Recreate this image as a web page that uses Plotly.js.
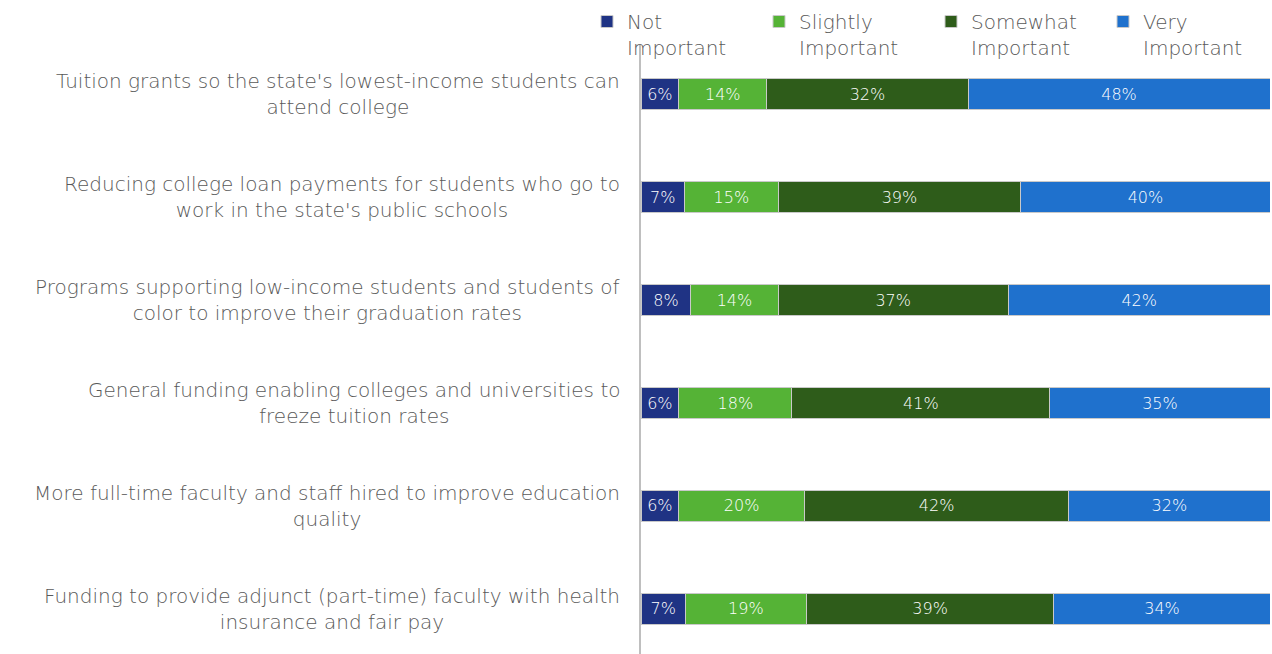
<!DOCTYPE html>
<html>
<head>
<meta charset="utf-8">
<script src="https://cdn.plot.ly/plotly-3.0.1.min.js"></script>
<style>html,body{margin:0;padding:0;background:#fff;}#chart{width:1272px;height:654px;}</style>
</head>
<body>
<div id="chart"></div>
<script>
const categories = [
  "Tuition grants so the state's lowest-income students can<br>attend college",
  "Reducing college loan payments for students who go to<br>work in the state's public schools",
  "Programs supporting low-income students and students of<br>color to improve their graduation rates",
  "General funding enabling colleges and universities to<br>freeze tuition rates",
  "More full-time faculty and staff hired to improve education<br>quality",
  "Funding to provide adjunct (part-time) faculty with health<br>insurance and fair pay"
];
const seriesNames = ["Not<br>Important", "Slightly<br>Important", "Somewhat<br>Important", "Very<br>Important"];
const notImportant = [6, 7, 8, 6, 6, 7];
const slightlyImportant = [14, 15, 14, 18, 20, 19];
const somewhatImportant = [32, 39, 37, 41, 42, 39];
const veryImportant = [48, 40, 42, 35, 32, 34];
const seriesColors = ["#1F3384", "#55B336", "#2E5C1A", "#1F71CD"];

const FONT = "'DejaVu Sans', sans-serif";
const GRAY = "#595959";

const allSeries = [notImportant, slightlyImportant, somewhatImportant, veryImportant];
const traces = allSeries.map((vals, i) => ({
  type: 'bar',
  orientation: 'h',
  name: seriesNames[i],
  y: categories,
  x: vals,
  text: vals.map(v => v + '%'),
  textposition: 'inside',
  insidetextanchor: 'middle',
  constraintext: 'none',
  textangle: 0,
  textfont: {family: FONT, size: 16, color: '#ffffff', weight: 200},
  marker: {color: seriesColors[i], line: {color: '#c9c9c9', width: 1}},
  hoverinfo: 'skip'
}));

const annotations = categories.map(c => ({
  xref: 'paper', yref: 'y', x: 0, y: c,
  xanchor: 'right', yanchor: 'middle', xshift: -19,
  text: c, showarrow: false, align: 'center',
  font: {family: FONT, size: 20, color: GRAY, weight: 200}
}));

const ML = 641, MT = 45, PW = 1272 - 641 - 2, PH = 654 - 45;
const layout = {
  width: 1272, height: 654,
  margin: {l: ML, r: 2, t: MT, b: 0, autoexpand: false},
  barmode: 'stack',
  barnorm: 'percent',
  bargap: 0.69,
  paper_bgcolor: '#ffffff', plot_bgcolor: '#ffffff',
  showlegend: true,
  legend: {
    orientation: 'h', xref: 'paper', yref: 'paper',
    x: (587 - ML) / PW, y: 1 + (MT - 2) / PH, xanchor: 'left', yanchor: 'top',
    entrywidth: 127, entrywidthmode: 'pixels',
    valign: 'top', traceorder: 'normal',
    font: {family: FONT, size: 20, color: GRAY, weight: 200},
    bgcolor: 'rgba(0,0,0,0)'
  },
  xaxis: {range: [0, 100], showgrid: false, zeroline: false, showticklabels: false, showline: false, fixedrange: true},
  yaxis: {
    type: 'category', range: [5.437, -0.476], showgrid: false, zeroline: false,
    showticklabels: false, showline: true, linecolor: '#BFBFBF', linewidth: 2, ticks: ''
  },
  annotations: annotations
};

Plotly.newPlot('chart', traces, layout, {displayModeBar: false, staticPlot: true});
</script>
</body>
</html>
